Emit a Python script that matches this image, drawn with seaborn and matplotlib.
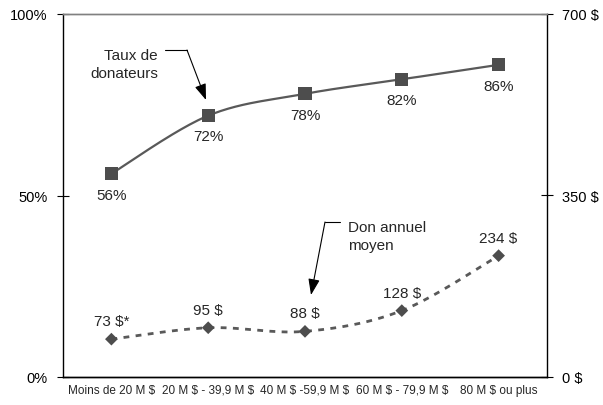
import numpy as np
import matplotlib.pyplot as plt
import seaborn as sns

categories = ["Moins de 20 M $", "20 M $ - 39,9 M $", "40 M $ -59,9 M $",
              "60 M $ - 79,9 M $", "80 M $ ou plus"]
taux = [56, 72, 78, 82, 86]          # % de donateurs
don = [73, 95, 88, 128, 234]         # don annuel moyen ($)
taux_labels = ["56%", "72%", "78%", "82%", "86%"]
don_labels = ["73 $*", "95 $", "88 $", "128 $", "234 $"]

W, H = 603, 406


def smooth(vals, n=40):
    # bezier smoothing like the spreadsheet "smoothed line"
    x = np.arange(len(vals), dtype=float)
    y = np.asarray(vals, dtype=float)
    pts = np.column_stack([x, y])
    out = []
    t = np.linspace(0, 1, n)[:, None]
    for i in range(len(pts) - 1):
        p0 = pts[i - 1] if i > 0 else pts[i]
        p1, p2 = pts[i], pts[i + 1]
        p3 = pts[i + 2] if i + 2 < len(pts) else pts[i + 1]
        c1 = p1 + (p2 - p0) / 6
        c2 = p2 - (p3 - p1) / 6
        seg = ((1 - t) ** 3) * p1 + 3 * ((1 - t) ** 2) * t * c1 + 3 * (1 - t) * t ** 2 * c2 + t ** 3 * p2
        out.append(seg if i == 0 else seg[1:])
    out = np.vstack(out)
    return out[:, 0], out[:, 1]


def fig_xy(px, py):
    return px / W, 1 - py / H


sns.set_style("white")
plt.rcParams['font.family'] = ['Liberation Sans', 'DejaVu Sans']
plt.rcParams['text.parse_math'] = False

fig = plt.figure(figsize=(W / 100, H / 100), dpi=100)
ax = fig.add_axes([63 / W, 1 - 378 / H, (547 - 63) / W, (378 - 15) / H])
ax2 = ax.twinx()

line_col = "#595959"
mark_col = "#4d4d4d"

# Taux de donateurs
xs, ys = smooth(taux)
sns.lineplot(x=xs, y=ys, ax=ax, color=line_col, lw=1.6, sort=False, estimator=None)
sns.scatterplot(x=np.arange(len(taux)), y=taux, ax=ax, marker="s", s=90,
                color=mark_col, edgecolor="none", zorder=4)
for i, (v, lab) in enumerate(zip(taux, taux_labels)):
    ax.annotate(lab, (i, v), xytext=(0, -15), textcoords="offset points",
                ha="center", va="center", fontsize=11)

# Don annuel moyen
xs2, ys2 = smooth(don)
sns.lineplot(x=xs2, y=ys2, ax=ax2, color=line_col, lw=2, sort=False, estimator=None)
ax2.lines[-1].set_dashes([2.1, 2.3])
sns.scatterplot(x=np.arange(len(don)), y=don, ax=ax2, marker="D", s=42,
                color=mark_col, edgecolor="none", zorder=4)
for i, (v, lab) in enumerate(zip(don, don_labels)):
    ax2.annotate(lab, (i, v), xytext=(0, 13), textcoords="offset points",
                 ha="center", va="center", fontsize=11)

# axes
ax.set_xlim(-0.5, len(categories) - 0.5)
ax.set_ylim(0, 100)
ax2.set_ylim(0, 700)
ax.set_yticks([0, 50, 100])
ax.set_yticklabels(["0%", "50%", "100%"], fontsize=10.5)
ax2.set_yticks([0, 350, 700])
ax2.set_yticklabels(["0 $", "350 $", "700 $"], fontsize=10.5)

ax.set_xticks(np.arange(-0.5, len(categories)), labels=[])
ax.set_xticks(np.arange(len(categories)), labels=categories, minor=True)
ax.tick_params(axis="x", which="minor", length=0, pad=5, labelsize=8.5)
ax.tick_params(axis="x", which="major", direction="inout", length=7, width=0.8, color="black")
ax.tick_params(axis="y", direction="inout", length=8, width=0.8, pad=7, colors="black")
ax2.tick_params(axis="y", direction="inout", length=8, width=0.8, pad=7, colors="black")
ax.set_xlabel("")
ax.set_ylabel("")
ax2.set_ylabel("")

for a in (ax, ax2):
    for s in ("left", "right", "bottom"):
        a.spines[s].set_color("black")
        a.spines[s].set_linewidth(1)
    a.spines["top"].set_color("#808080")
    a.spines["top"].set_linewidth(1)
ax.spines["right"].set_visible(False)
ax2.spines["left"].set_visible(False)


# callouts
def callout(text_xy, text, ha, corner, bend, tip):
    fig.text(*fig_xy(*text_xy), text, ha=ha, va="center", fontsize=11, linespacing=1.35)
    fig.add_artist(plt.Line2D([fig_xy(*corner)[0], fig_xy(*bend)[0]],
                              [fig_xy(*corner)[1], fig_xy(*bend)[1]],
                              transform=fig.transFigure, color="black", lw=0.8))
    ax2.annotate("", xy=fig_xy(*tip), xycoords="figure fraction",
                 xytext=fig_xy(*bend), textcoords="figure fraction",
                 arrowprops=dict(arrowstyle="-|>,head_length=0.7,head_width=0.25",
                                 color="black", lw=0.8,
                                 mutation_scale=14, shrinkA=0, shrinkB=0))


callout((158, 65), "Taux de\ndonateurs", "right", (165, 51), (187, 51), (206, 101))
callout((348, 237), "Don annuel\nmoyen", "left", (340, 223), (325, 223), (311, 296))

fig.savefig("out.png", dpi=100)
